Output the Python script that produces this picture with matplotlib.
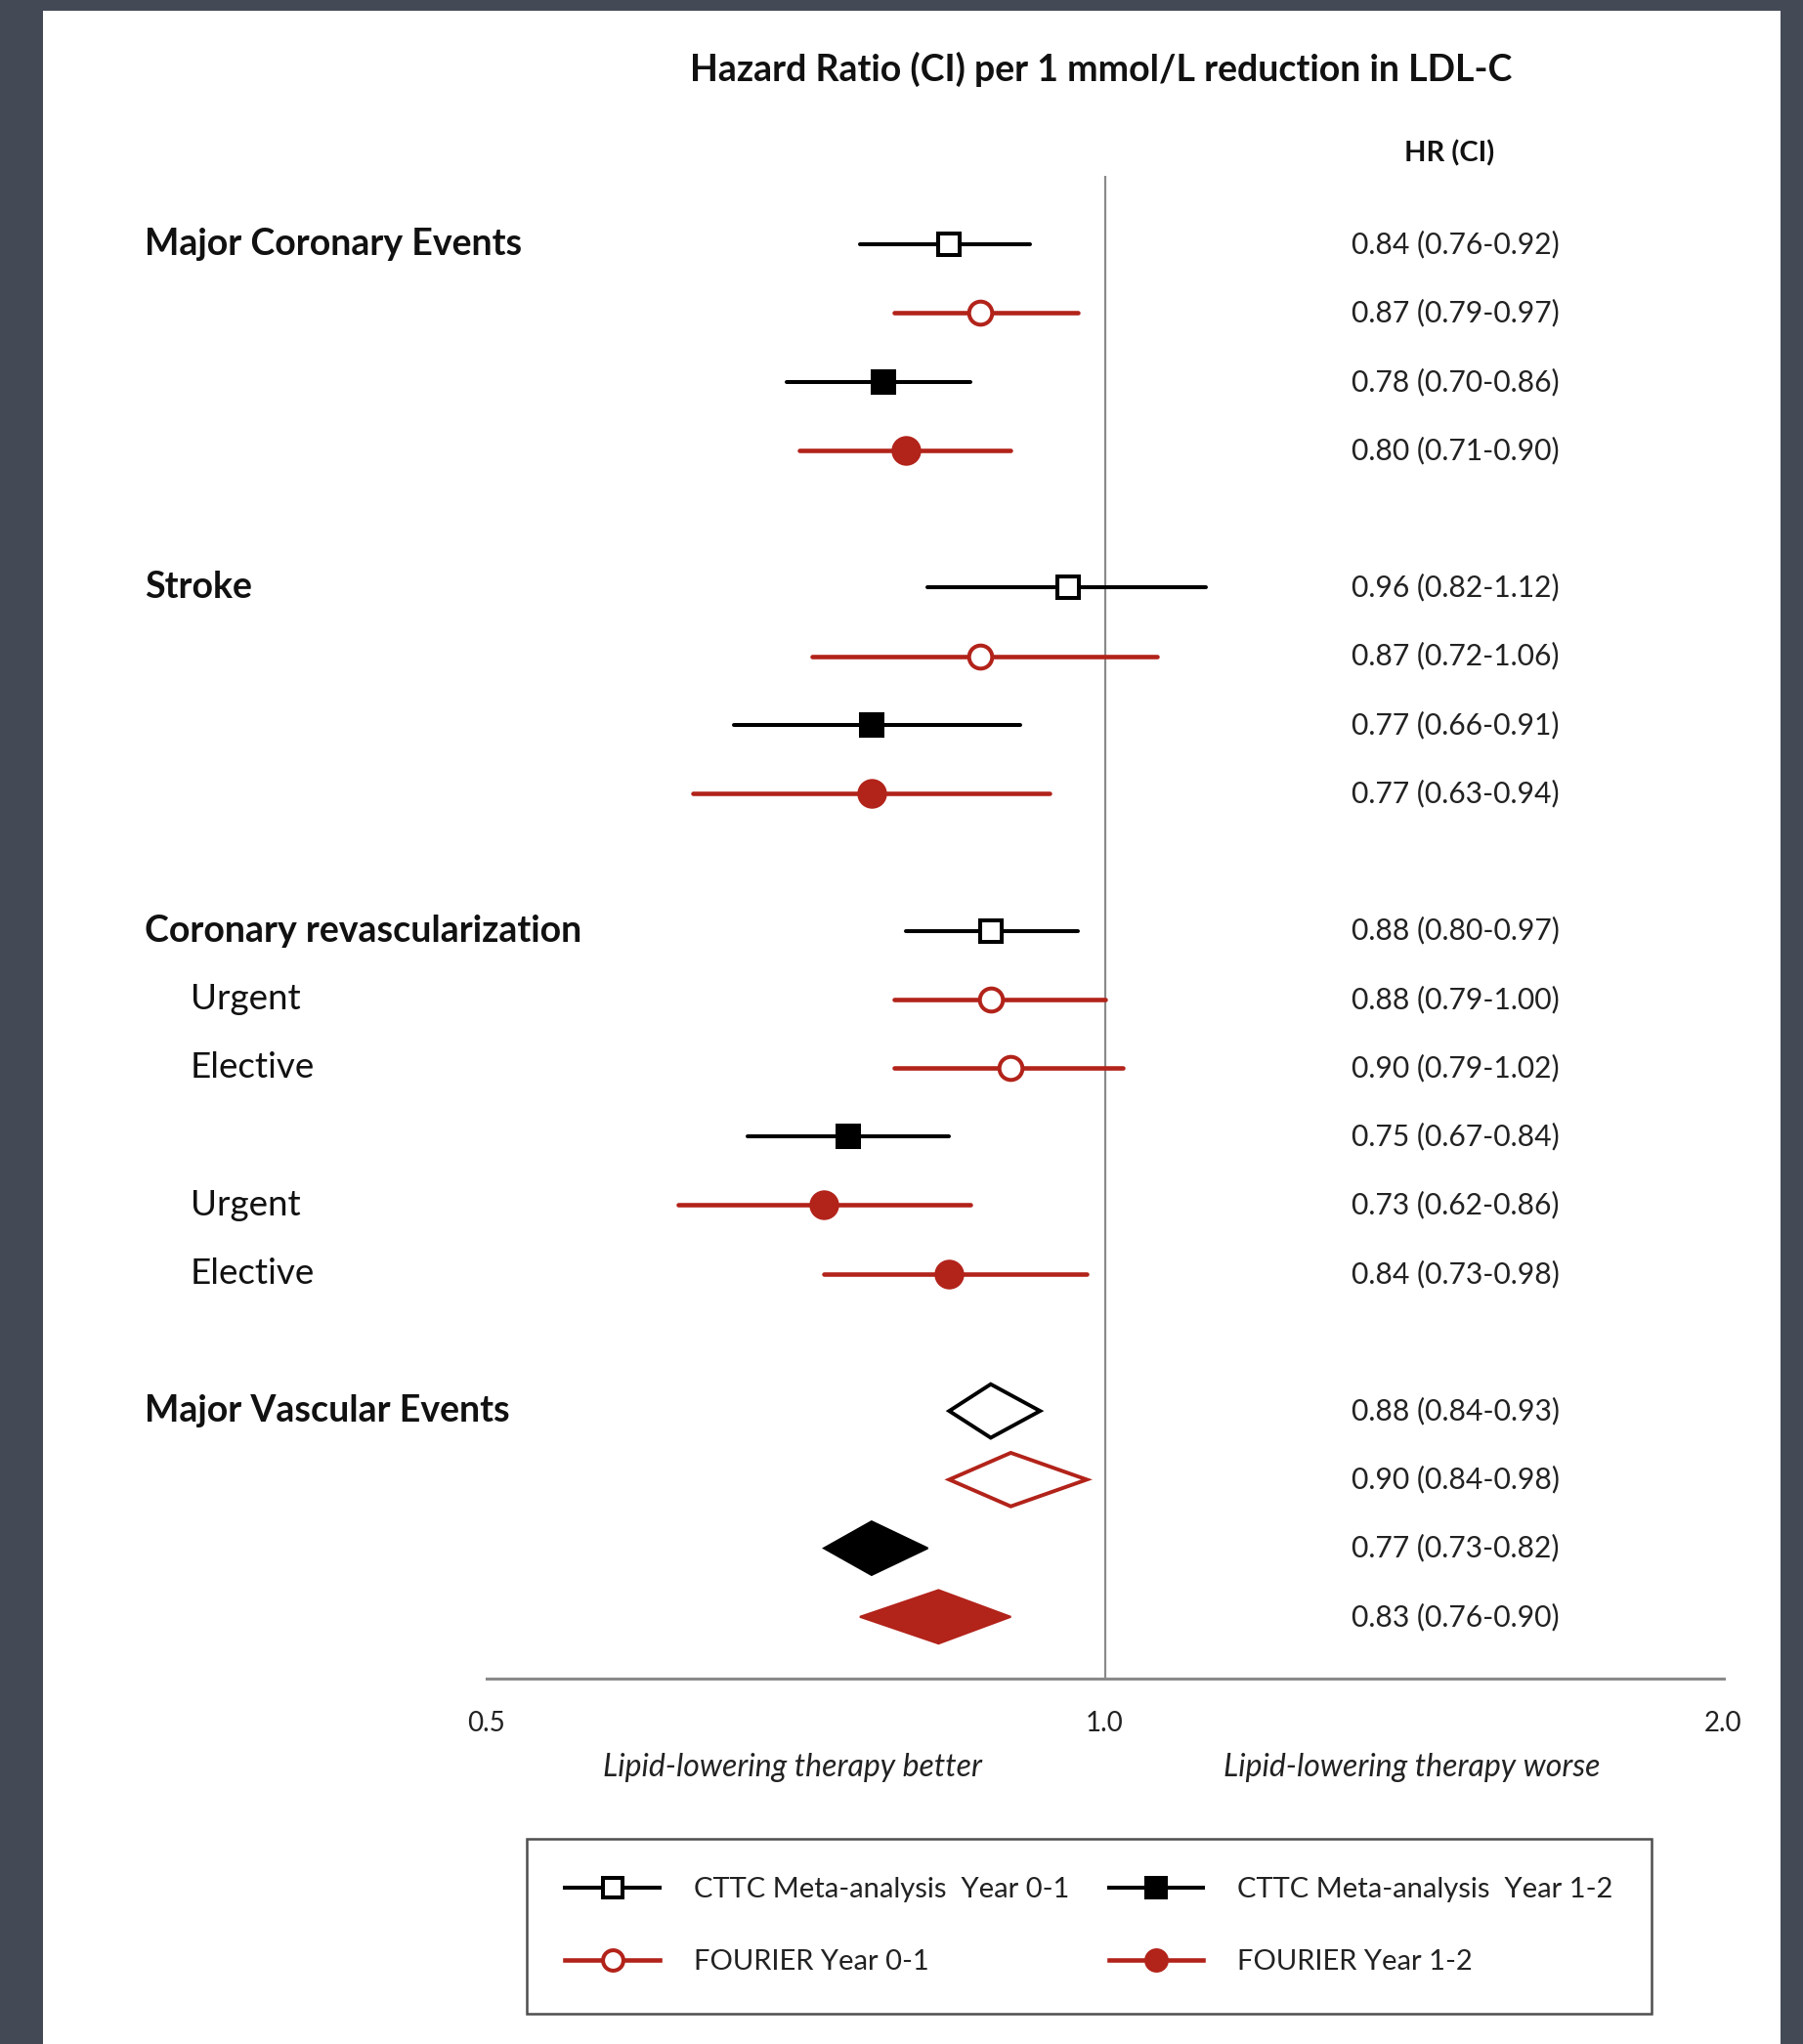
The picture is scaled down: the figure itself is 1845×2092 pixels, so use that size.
import matplotlib
matplotlib.use("Agg")
import matplotlib.pyplot as plt
import numpy as np
from matplotlib.lines import Line2D
from matplotlib.patches import Rectangle
import matplotlib.transforms as mtransforms

plt.rcParams['font.family'] = ['Lato', 'DejaVu Sans']

# ---------------- data ----------------
series_names = ["CTTC Meta-analysis  Year 0-1", "CTTC Meta-analysis  Year 1-2",
                "FOURIER Year 0-1", "FOURIER Year 1-2"]
# series key: 0 = CTTC 0-1, 1 = CTTC 1-2, 2 = FOURIER 0-1, 3 = FOURIER 1-2
row_pos = [0, 1, 2, 3, 5, 6, 7, 8, 10, 11, 12, 13, 14, 15, 17, 18, 19, 20]
row_series = [0, 2, 1, 3, 0, 2, 1, 3, 0, 2, 2, 1, 3, 3, 0, 2, 1, 3]
hr = [0.84, 0.87, 0.78, 0.80, 0.96, 0.87, 0.77, 0.77,
      0.88, 0.88, 0.90, 0.75, 0.73, 0.84, 0.88, 0.90, 0.77, 0.83]
ci_lo = [0.76, 0.79, 0.70, 0.71, 0.82, 0.72, 0.66, 0.63,
         0.80, 0.79, 0.79, 0.67, 0.62, 0.73, 0.84, 0.84, 0.73, 0.76]
ci_hi = [0.92, 0.97, 0.86, 0.90, 1.12, 1.06, 0.91, 0.94,
         0.97, 1.00, 1.02, 0.84, 0.86, 0.98, 0.93, 0.98, 0.82, 0.90]
is_diamond = [False] * 14 + [True] * 4

group_labels = ["Major Coronary Events", "Stroke", "Coronary revascularization",
                "Major Vascular Events"]
group_rows = [0, 5, 10, 17]
sub_labels = ["Urgent", "Elective", "Urgent", "Elective"]
sub_rows = [11, 12, 14, 15]

xticks = [0.5, 1.0, 2.0]
xtick_labels = ["0.5", "1.0", "2.0"]

title = "Hazard Ratio (CI) per 1 mmol/L reduction in LDL-C"
hr_header = "HR (CI)"
better_lbl = "Lipid-lowering therapy better"
worse_lbl = "Lipid-lowering therapy worse"

# ---------------- style ----------------
RED = "#B2231A"
BLACK = "#000000"
series_color = [BLACK, BLACK, RED, RED]
series_marker = ["s", "s", "o", "o"]
series_filled = [False, True, False, True]
series_lw = [2.9, 2.9, 3.3, 3.3]

W, H = 1845, 2092
fig = plt.figure(figsize=(W / 100, H / 100), dpi=100)
fig.patch.set_facecolor("#434955")
fig.patches.append(Rectangle((44 / W, 0), (1822 - 44) / W, 1 - 11 / H,
                             transform=fig.transFigure, facecolor="white",
                             edgecolor="none", zorder=-5))

def fx(px):
    return px / W

def fy(py):
    return 1 - py / H

ax_left, ax_right = 497.6, 1763.5
ax_top, ax_bot = 180, 1718
ax = fig.add_axes([fx(ax_left), fy(ax_bot), fx(ax_right) - fx(ax_left),
                   (ax_bot - ax_top) / H])
ax.set_zorder(2)
ax.set_facecolor("none")
ax.set_xscale("log")
ax.set_xlim(0.5, 2.0)
ax.set_ylim(20.9, -1.0)

for s in ["top", "right", "left"]:
    ax.spines[s].set_visible(False)
ax.spines["bottom"].set_color("#8a8a8a")
ax.spines["bottom"].set_linewidth(2.2)
ax.set_yticks([])
ax.set_xticks(xticks)
ax.set_xticklabels(xtick_labels)
ax.xaxis.set_minor_locator(matplotlib.ticker.NullLocator())
ax.tick_params(axis="x", which="major", length=0, pad=24, labelsize=20,
               labelcolor="#222222")
ax.set_xticks([0.5], minor=True)
ax.tick_params(axis="x", which="minor", length=10, width=2, color="#8a8a8a")

ax.axvline(1.0, color="#8a8a8a", lw=1.6, zorder=1)

dh = 0.39  # diamond half-height (rows)
for y, s, h, lo, hi, dia in zip(row_pos, row_series, hr, ci_lo, ci_hi, is_diamond):
    c = series_color[s]
    if dia:
        xs = [lo, h, hi, h, lo]
        ys = [y, y - dh, y, y + dh, y]
        if series_filled[s]:
            ax.fill(xs, ys, facecolor=c, edgecolor=c, lw=1.5, zorder=3)
        else:
            ax.fill(xs, ys, facecolor="white", edgecolor=c, lw=2.8, zorder=3)
    else:
        ax.plot([lo, hi], [y, y], color=c, lw=series_lw[s], zorder=2,
                solid_capstyle="round")
        if series_marker[s] == "s":
            ms = 16.5
        else:
            ms = 17 if not series_filled[s] else 19
        ax.plot([h], [y], marker=series_marker[s], ms=ms,
                mfc=c if series_filled[s] else "white", mec=c, mew=2.9,
                zorder=3, ls="none")

# text: row labels (figure x, data y)
trans = mtransforms.blended_transform_factory(fig.transFigure, ax.transData)
for lbl, r in zip(group_labels, group_rows):
    fig.text(fx(148), r, lbl, transform=trans, fontsize=27, fontweight="bold",
             va="center", ha="left", color="#111111")
for lbl, r in zip(sub_labels, sub_rows):
    fig.text(fx(195), r, lbl, transform=trans, fontsize=26.5,
             va="center", ha="left", color="#111111")

for y, h, lo, hi in zip(row_pos, hr, ci_lo, ci_hi):
    fig.text(fx(1383), y, f"{h:.2f} ({lo:.2f}-{hi:.2f})", transform=trans,
             fontsize=21.6, va="center", ha="left", color="#222222")

fig.text(fx(1127), fy(71), title, fontsize=27, fontweight="bold",
         ha="center", va="center", color="#111111")
fig.text(fx(1483), fy(157), hr_header, fontsize=21, fontweight="bold",
         ha="center", va="center", color="#111111")

fig.text(fx(811), fy(1809), better_lbl, fontsize=23, style="italic",
         ha="center", va="center", color="#222222")
fig.text(fx(1445), fy(1809), worse_lbl, fontsize=23, style="italic",
         ha="center", va="center", color="#222222")

# legend
handles = []
order = [0, 2, 1, 3]
for s in order:
    handles.append(Line2D([0], [0], color=series_color[s], lw=series_lw[s],
                          marker=series_marker[s],
                          ms=14 if series_marker[s] == "s" else 15,
                          mfc=series_color[s] if series_filled[s] else "white",
                          mec=series_color[s], mew=2.9))
leg = fig.legend(handles, [series_names[s] for s in order], ncol=2,
                 loc="upper left", bbox_to_anchor=(fx(539), fy(1882)),
                 fontsize=21, frameon=True, fancybox=False, edgecolor="#222222",
                 borderpad=1.35, labelspacing=1.65, handlelength=3.3,
                 handletextpad=1.2, columnspacing=1.4, borderaxespad=0)
leg.get_frame().set_linewidth(1.8)
for t in leg.get_texts():
    t.set_color("#222222")

fig.savefig("out.png", dpi=100, facecolor=fig.get_facecolor())
